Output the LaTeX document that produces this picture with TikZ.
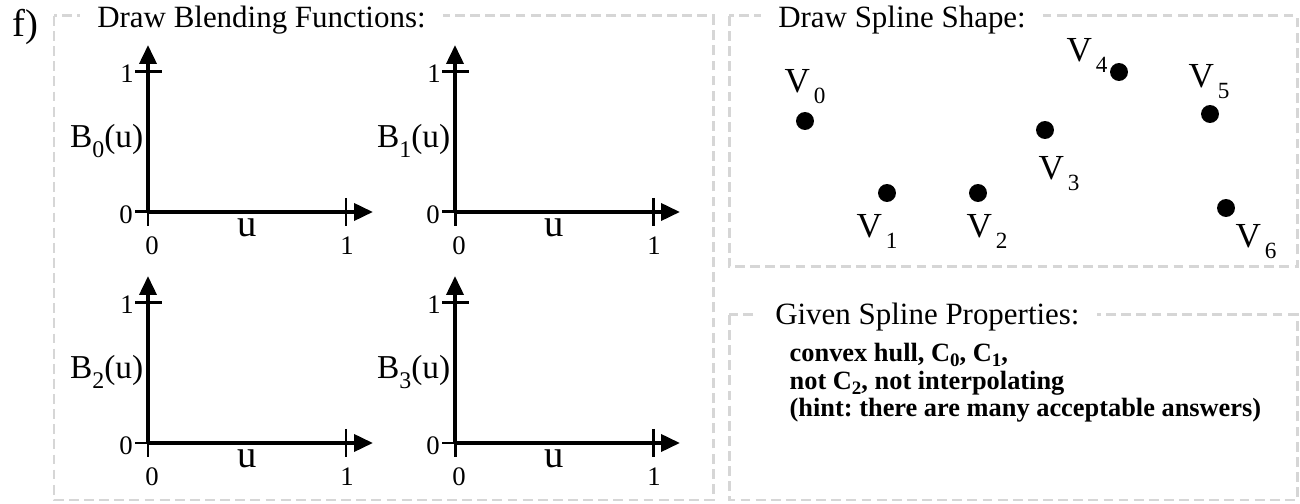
\documentclass[tikz,border=0pt]{standalone}
\usepackage{fontspec}
\setmainfont{Liberation Serif}
\usetikzlibrary{arrows.meta}
\frenchspacing
\tikzset{
	frame/.style={draw=black!16, line width=0.85pt, dash pattern=on 2.8pt off 1.5pt},
	axis/.style={line width=1.15pt, -{Triangle[length=5.4pt, width=4.8pt]}},
	tickmark/.style={line width=0.85pt},
	boxtitle/.style={fill=white, inner xsep=5pt, inner ysep=2pt, anchor=base west, font=\fontsize{8.8}{10}\selectfont},
	ticklabel/.style={inner sep=0pt, anchor=base, font=\fontsize{7.6}{9}\selectfont},
	ctrlpt/.style={circle, fill=black, inner sep=0pt, minimum size=5.1pt},
	ctrllabel/.style={inner sep=0pt, anchor=base west, font=\fontsize{10}{11}\selectfont},
	proptext/.style={inner sep=0pt, anchor=base west, font=\bfseries\fontsize{7.5}{9}\selectfont},
}
\newcommand{\bsub}[1]{\raisebox{-2.8pt}{\fontsize{6.8}{7}\selectfont #1}}
\newcommand{\vsub}[1]{\hspace{1.1pt}\raisebox{-3pt}{\fontsize{6.6}{7}\selectfont #1}}
\newcommand{\csub}[1]{\raisebox{-1.3pt}{\fontsize{5.4}{6}\selectfont #1}}
\begin{document}
\begin{tikzpicture}[x=0.01cm, y=-0.01cm]
	\useasboundingbox (0, 0) rectangle (1300, 504);
	% Frames and titles:
	\draw[frame] (54, 16) rectangle (713, 500);
	\draw[frame] (729, 16) rectangle (1297, 267);
	\draw[frame] (729, 315) rectangle (1297, 500);
	\node[inner sep=0pt, anchor=base west, font=\fontsize{11}{12}\selectfont] (F) at (12, 37){f)};
	\node[boxtitle] (T1) at (79, 28){Draw Blending Functions:};
	\node[boxtitle] (T2) at (760, 28){Draw Spline Shape:};
	\node[boxtitle] (T3) at (757, 325){Given Spline Properties:};
	% Blending function axes:
	\foreach \ox/\oy/\k in {148/212/0, 455/212/1, 148/443/2, 455/443/3}{
		\coordinate (O\k) at (\ox, \oy);
		\coordinate (X\k) at (\ox+225, \oy);
		\coordinate (Y\k) at (\ox, \oy-167);
		\draw[axis] (O\k) -- (X\k);
		\draw[axis] (O\k) -- (Y\k);
		\draw[tickmark] (\ox-13, \oy) -- (\ox, \oy) (\ox, \oy) -- (\ox, \oy+14);
		\draw[tickmark] (\ox-13, \oy-140) -- (\ox+14, \oy-140);
		\draw[tickmark] (\ox+198, \oy-14) -- (\ox+198, \oy+14);
		\node[ticklabel] (Z\k) at (\ox-22, \oy+12){0};
		\node[ticklabel] (E\k) at (\ox-21, \oy-129){1};
		\node[ticklabel] (A\k) at (\ox+4, \oy+43){0};
		\node[ticklabel] (C\k) at (\ox+199, \oy+43){1};
		\node[inner sep=0pt, anchor=base, font=\fontsize{11}{12}\selectfont] (U\k) at (\ox+99, \oy+25){u};
		\node[inner sep=0pt, anchor=base east, font=\fontsize{9.5}{11}\selectfont] (B\k) at (\ox-4, \oy-64){B\bsub{\k}(u)};
	}
	% Control points:
	\node[ctrlpt] (V0) at (805, 121){};
	\node[ctrlpt] (V1) at (887, 193){};
	\node[ctrlpt] (V2) at (978, 193){};
	\node[ctrlpt] (V3) at (1045, 130){};
	\node[ctrlpt] (V4) at (1119, 72){};
	\node[ctrlpt] (V5) at (1210, 114){};
	\node[ctrlpt] (V6) at (1226, 208){};
	\node[ctrllabel] (L0) at (784, 93){V\vsub{0}};
	\node[ctrllabel] (L1) at (856, 238){V\vsub{1}};
	\node[ctrllabel] (L2) at (966, 238){V\vsub{2}};
	\node[ctrllabel] (L3) at (1038, 180){V\vsub{3}};
	\node[ctrllabel] (L4) at (1066, 62){V\vsub{4}};
	\node[ctrllabel] (L5) at (1188, 88){V\vsub{5}};
	\node[ctrllabel] (L6) at (1235, 248){V\vsub{6}};
	% Properties:
	\node[proptext] (P1) at (789, 362){convex hull, C\csub{0}, C\csub{1},};
	\node[proptext] (P2) at (789, 390){not C\csub{2}, not interpolating};
	\node[proptext] (P3) at (789, 417){(hint: there are many acceptable answers)};
\end{tikzpicture}
\end{document}
